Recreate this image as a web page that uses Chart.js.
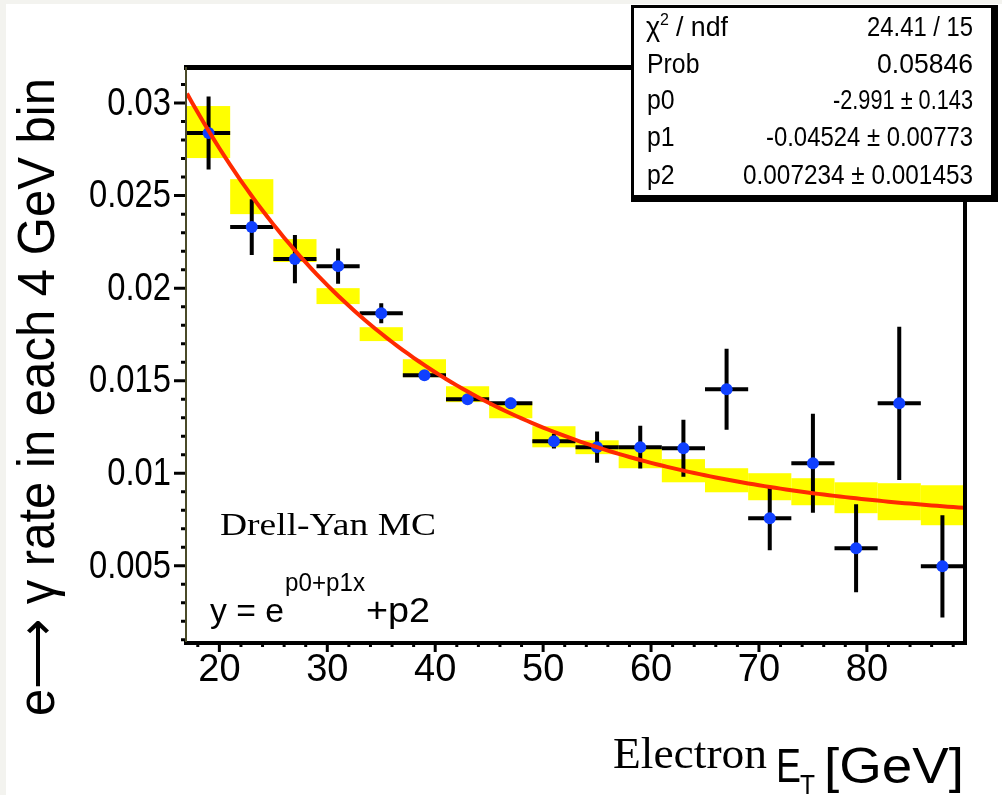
<!DOCTYPE html>
<html>
<head>
<meta charset="utf-8">
<script src="https://cdn.jsdelivr.net/npm/chart.js@4.4.0/dist/chart.umd.min.js"></script>
<style>
  html, body { margin: 0; padding: 0; background: #f3f3ef; }
  canvas { display: block; }
</style>
</head>
<body>
<canvas id="rate" width="1002" height="795"></canvas>
<script>
// bin centres (4 GeV bins from 17 to 89)
const binCenters = [19, 23, 27, 31, 35, 39, 43, 47, 51, 55, 59, 63, 67, 71, 75, 79, 83, 87];
const binHalfWidth = 2;
const rates = [0.02838, 0.0233, 0.02157, 0.02119, 0.01865, 0.0153, 0.0140, 0.01378, 0.01173,
  0.01141, 0.01141, 0.01135, 0.01454, 0.00757, 0.01054, 0.00595, 0.01378, 0.00497];
const rateErrors = [0.00197, 0.00151, 0.0013, 0.00095, 0.00054, 0.0002, 0.0002, 0.0003, 0.0004,
  0.00084, 0.00116, 0.00154, 0.00219, 0.00173, 0.00268, 0.00238, 0.00414, 0.00276];
// fit confidence band per bin
const bandLow = [0.02703, 0.0240, 0.02141, 0.01914, 0.01714, 0.01519, 0.01384, 0.01297, 0.0114,
  0.01103, 0.01027, 0.00951, 0.00897, 0.00854, 0.00827, 0.00784, 0.00746, 0.00719];
const bandHigh = [0.02984, 0.02589, 0.02265, 0.0200, 0.01789, 0.01616, 0.01470, 0.01384, 0.01254,
  0.01178, 0.01135, 0.01076, 0.01027, 0.0100, 0.00973, 0.00951, 0.00946, 0.00935];

// fit y = exp(p0 + p1 x) + p2
const fitParams = [-2.991, -0.04524, 0.007234];
const statLabels = ["Prob", "p0", "p1", "p2"];
const statValues = ["0.05846", "-2.991 \u00b1 0.143", "-0.04524 \u00b1 0.00773", "0.007234 \u00b1 0.001453"];
const chi2Text = "24.41 / 15";

const xTicks = [20, 30, 40, 50, 60, 70, 80];
const yTicks = [0.005, 0.01, 0.015, 0.02, 0.025, 0.03];
const xRange = [17, 89];
const yRange = [0.00088, 0.03195];

const fitCurve = [];
for (let x = xRange[0]; x <= xRange[1] + 1e-9; x += 0.5) {
  fitCurve.push({ x: x, y: Math.exp(fitParams[0] + fitParams[1] * x) + fitParams[2] });
}

const SANS = "'Liberation Sans', Arial, Helvetica, sans-serif";
const SERIF = "'Liberation Serif', 'Times New Roman', serif";

// draw text squeezed/stretched horizontally to a given width
function fitText(ctx, text, x, y, width, align) {
  const w = ctx.measureText(text).width;
  const sx = width / w;
  ctx.save();
  ctx.translate(x, y);
  ctx.scale(sx, 1);
  ctx.textAlign = align || "left";
  ctx.fillText(text, 0, 0);
  ctx.restore();
}

// draw text with a fixed horizontal squeeze
function narrowText(ctx, text, x, y, sx, align) {
  ctx.save();
  ctx.translate(x, y);
  ctx.scale(sx, 1);
  ctx.textAlign = align || "left";
  ctx.fillText(text, 0, 0);
  ctx.restore();
}

const backdrop = {
  id: "backdrop",
  beforeDraw(chart) {
    const ctx = chart.ctx;
    ctx.save();
    ctx.fillStyle = "#f3f3ef";
    ctx.fillRect(0, 0, chart.width, chart.height);
    ctx.fillStyle = "#ffffff";
    ctx.fillRect(6, 4, chart.width - 6, chart.height - 4);
    ctx.restore();
  }
};

// yellow fit band and black error crosses, under the markers
const errorBars = {
  id: "errorBars",
  beforeDatasetsDraw(chart) {
    const ctx = chart.ctx;
    const xs = chart.scales.x, ys = chart.scales.y;
    const area = chart.chartArea;
    ctx.save();
    ctx.beginPath();
    ctx.rect(area.left, area.top, area.right - area.left, area.bottom - area.top);
    ctx.clip();
    ctx.fillStyle = "#ffff00";
    binCenters.forEach((c, i) => {
      const x0 = xs.getPixelForValue(c - binHalfWidth);
      const x1 = xs.getPixelForValue(c + binHalfWidth);
      const y0 = ys.getPixelForValue(bandHigh[i]);
      const y1 = ys.getPixelForValue(bandLow[i]);
      ctx.fillRect(x0, y0, x1 - x0, y1 - y0);
    });
    ctx.strokeStyle = "#000000";
    ctx.lineWidth = 4;
    binCenters.forEach((c, i) => {
      const xc = xs.getPixelForValue(c);
      const yc = ys.getPixelForValue(rates[i]);
      ctx.beginPath();
      ctx.moveTo(xs.getPixelForValue(c - binHalfWidth), yc);
      ctx.lineTo(xs.getPixelForValue(c + binHalfWidth), yc);
      ctx.moveTo(xc, ys.getPixelForValue(rates[i] + rateErrors[i]));
      ctx.lineTo(xc, ys.getPixelForValue(rates[i] - rateErrors[i]));
      ctx.stroke();
    });
    ctx.restore();
  }
};

// frame, tick marks, y labels, stats box and the free text
const decorations = {
  id: "decorations",
  afterDraw(chart) {
    const ctx = chart.ctx;
    const xs = chart.scales.x, ys = chart.scales.y;
    const a = chart.chartArea;
    ctx.save();

    // tick marks outside the frame
    ctx.strokeStyle = "#000";
    ctx.lineWidth = 3;
    ctx.beginPath();
    for (let v = 18; v <= 88; v += 2) {
      const px = xs.getPixelForValue(v);
      const len = v % 10 === 0 ? 10 : 5;
      ctx.moveTo(px, a.bottom);
      ctx.lineTo(px, a.bottom + len);
    }
    for (let k = 1; k <= 31; k++) {
      const py = ys.getPixelForValue(k / 1000);
      const len = k % 5 === 0 ? 13 : 6;
      ctx.moveTo(a.left, py);
      ctx.lineTo(a.left - len, py);
    }
    ctx.stroke();

    // y tick labels in a narrow face
    ctx.fillStyle = "#000";
    ctx.font = "39px " + SANS;
    ctx.textBaseline = "middle";
    ys.ticks.forEach(t => {
      narrowText(ctx, String(parseFloat(t.value.toFixed(4))), 171, ys.getPixelForValue(t.value) + 1, 0.84, "right");
    });
    ctx.textBaseline = "alphabetic";

    // frame
    ctx.fillStyle = "#000";
    ctx.fillRect(a.left - 3, a.top - 2, a.right - a.left + 6, 5);     // top
    ctx.fillRect(a.right - 1, a.top - 2, 4, a.bottom - a.top + 5);     // right
    ctx.fillRect(a.left - 3, a.bottom - 1, a.right - a.left + 6, 4);  // bottom
    ctx.fillStyle = "#4a4a28";
    ctx.fillRect(a.left - 2, a.top, 2, a.bottom - a.top);              // left

    // stats box with shadow
    const bx = 631, by = 5, bw = 363, bh = 193;
    ctx.fillStyle = "#000";
    ctx.fillRect(bx, by, bw + 4, bh + 4);
    ctx.fillStyle = "#fff";
    ctx.fillRect(bx + 3, by + 3, bw - 6, bh - 6);

    ctx.fillStyle = "#000";
    ctx.font = "27px " + SANS;
    ctx.textAlign = "left";
    ctx.fillText("\u03c7", 646, 36);
    ctx.font = "16px " + SANS;
    ctx.fillText("2", 660, 25);
    ctx.font = "27px " + SANS;
    fitText(ctx, "/ ndf", 676, 36, 52, "left");
    fitText(ctx, chi2Text, 973, 36, 106, "right");
    const rowY = [73, 109, 146, 184];
    const valueWidths = [96, 140, 207, 230];
    statLabels.forEach((lab, i) => {
      narrowText(ctx, lab, 647, rowY[i], 0.92, "left");
      fitText(ctx, statValues[i], 973, rowY[i], valueWidths[i], "right");
    });

    // sample label and fit formula
    ctx.font = "32px " + SERIF;
    fitText(ctx, "Drell-Yan MC", 220, 535, 216, "left");
    ctx.font = "34px " + SANS;
    fitText(ctx, "y = e", 210, 622, 74, "left");
    ctx.font = "25px " + SANS;
    fitText(ctx, "p0+p1x", 285, 591, 80, "left");
    ctx.font = "35px " + SANS;
    fitText(ctx, "+p2", 366, 622, 64, "left");

    // x-axis title
    ctx.font = "45px " + SERIF;
    fitText(ctx, "Electron", 613, 768, 154, "left");
    ctx.font = "49px " + SANS;
    fitText(ctx, "E", 776, 782, 25, "left");
    ctx.font = "27px " + SANS;
    fitText(ctx, "T", 800, 794, 15, "left");
    ctx.font = "50px " + SANS;
    fitText(ctx, "[GeV]", 824, 783, 140, "left");

    // y-axis title, rotated
    ctx.save();
    ctx.translate(54, 716);
    ctx.rotate(-Math.PI / 2);
    ctx.font = "52px " + SANS;
    fitText(ctx, "e\u27f6 \u03b3 rate in each 4 GeV bin", 0, 0, 638, "left");
    ctx.restore();

    ctx.restore();
  }
};

const ctx = document.getElementById("rate").getContext("2d");
new Chart(ctx, {
  type: "scatter",
  data: {
    datasets: [
      {
        type: "line",
        data: fitCurve,
        borderColor: "#ff2a00",
        borderWidth: 4,
        pointRadius: 0,
        fill: false,
        tension: 0,
        order: 0
      },
      {
        data: binCenters.map((c, i) => ({ x: c, y: rates[i] })),
        backgroundColor: "#1040ff",
        borderWidth: 0,
        pointRadius: 6,
        order: 1
      }
    ]
  },
  options: {
    responsive: false,
    animation: false,
    layout: { padding: { left: 0, right: 38, top: 67, bottom: 0 } },
    plugins: {
      legend: { display: false },
      tooltip: { enabled: false }
    },
    scales: {
      x: {
        type: "linear",
        min: xRange[0],
        max: xRange[1],
        afterBuildTicks: scale => { scale.ticks = xTicks.map(v => ({ value: v })); },
        afterFit: scale => { scale.height = 153; },
        grid: { display: false, drawTicks: false },
        border: { display: false },
        ticks: {
          color: "#000",
          padding: 6,
          maxRotation: 0,
          font: { family: SANS, size: 38 },
          callback: v => String(v)
        }
      },
      y: {
        type: "linear",
        min: yRange[0],
        max: yRange[1],
        afterBuildTicks: scale => { scale.ticks = yTicks.map(v => ({ value: v })); },
        afterFit: scale => { scale.width = 187; },
        grid: { display: false, drawTicks: false },
        border: { display: false },
        ticks: { display: false }
      }
    }
  },
  plugins: [backdrop, errorBars, decorations]
});
</script>
</body>
</html>
